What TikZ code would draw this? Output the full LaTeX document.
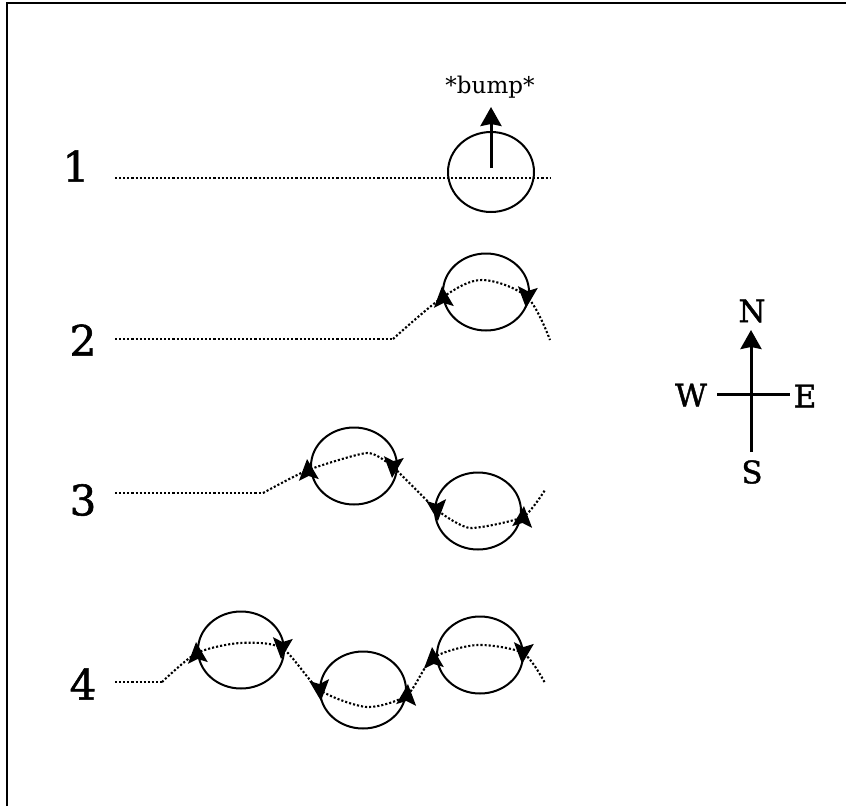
\documentclass[tikz,border=0pt]{standalone}
\usepackage{fontspec}
\newfontfamily\labelfont[FakeBold=1.3]{DejaVu Serif}
\newfontfamily\smallfont{DejaVu Serif}
\usetikzlibrary{shapes.geometric,arrows.meta}
\begin{document}
\begin{tikzpicture}[x=1pt,y=-1pt,
  loop/.style={ellipse, draw, line width=2pt, minimum width=86pt, minimum height=77pt, inner sep=0pt},
  trace/.style={line width=2.1pt, dash pattern=on 2.1pt off 2pt},
  numlabel/.style={font=\labelfont\fontsize{42}{46}\selectfont},
  dirlabel/.style={font=\labelfont\fontsize{31}{34}\selectfont},
  boldarrow/.style={line width=3pt, -{Stealth[length=19pt,width=21pt,inset=2pt]}},
  ahead/.pic={\fill (11,0) -- (-10,10) -- (-6,0) -- (-10,-10) -- cycle;}]
\useasboundingbox (0,0) rectangle (846,806);
% frame (top and left edges visible)
\draw[line width=2pt] (7,806) -- (7,3) -- (846,3);

% row labels
\node[numlabel] (n1) at (76,166) {1};
\node[numlabel] (n2) at (83,340) {2};
\node[numlabel] (n3) at (83,500) {3};
\node[numlabel] (n4) at (83,684) {4};

% ---------- row 1 ----------
\node[loop, minimum height=80pt] (c1) at (491,172) {};
\coordinate (h1s) at (115,178);
\coordinate (h1e) at (550,178);
\draw[trace] (h1s) -- (h1e);
\node[font=\smallfont\fontsize{23}{26}\selectfont] (bump) at (490,87) {*bump*};
\coordinate (b0) at (491,168);
\coordinate (b1) at (491,107);
\draw[boldarrow] (b0) -- (b1);

% ---------- row 2 ----------
\node[loop] (c2) at (486,292) {};
\coordinate (h2s) at (115,339);
\coordinate (h2e) at (393,339);
\coordinate (a2a) at (443,297);
\coordinate (p2) at (482,280);
\coordinate (a2b) at (527,297);
\coordinate (e2) at (550,340);
\draw[trace] (h2s) -- (h2e);
\draw[trace] plot[smooth, tension=0.55] coordinates {(h2e) (a2a) (p2) (a2b) (e2)};
\pic[rotate=95] at (a2a) {ahead};
\pic[rotate=-95] at (a2b) {ahead};

% ---------- row 3 ----------
\node[loop] (c3a) at (354,466) {};
\node[loop] (c3b) at (478,511) {};
\coordinate (h3s) at (115,493);
\coordinate (h3e) at (263,493);
\coordinate (a3a) at (308,470);
\coordinate (p3) at (367,453);
\coordinate (a3b) at (393,467);
\coordinate (a3c) at (437,510);
\coordinate (t3) at (470,528);
\coordinate (a3d) at (523,517);
\coordinate (e3) at (545,490);
\draw[trace] (h3s) -- (h3e);
\draw[trace] plot[smooth, tension=0.35] coordinates {(h3e) (a3a) (p3) (a3b) (a3c) (t3) (a3d) (e3)};
\pic[rotate=95] at (a3a) {ahead};
\pic[rotate=-95] at (a3b) {ahead};
\pic[rotate=-85] at (a3c) {ahead};
\pic[rotate=85] at (a3d) {ahead};

% ---------- row 4 ----------
\node[loop] (c4a) at (241,650) {};
\node[loop] (c4b) at (363,690) {};
\node[loop] (c4c) at (480,655) {};
\coordinate (h4s) at (115,682);
\coordinate (h4e) at (162,682);
\coordinate (a4a) at (197,653);
\coordinate (p4a) at (240,643);
\coordinate (a4b) at (282,648);
\coordinate (a4c) at (320,690);
\coordinate (t4) at (367,707);
\coordinate (a4d) at (407,695);
\coordinate (a4e) at (433,658);
\coordinate (p4c) at (477,645);
\coordinate (a4f) at (523,653);
\coordinate (e4) at (545,683);
\draw[trace] (h4s) -- (h4e);
\draw[trace] plot[smooth, tension=0.45] coordinates {(h4e) (a4a) (p4a) (a4b) (a4c) (t4) (a4d) (a4e) (p4c) (a4f) (e4)};
\pic[rotate=95] at (a4a) {ahead};
\pic[rotate=-95] at (a4b) {ahead};
\pic[rotate=-85] at (a4c) {ahead};
\pic[rotate=85] at (a4d) {ahead};
\pic[rotate=95] at (a4e) {ahead};
\pic[rotate=-95] at (a4f) {ahead};

% ---------- compass ----------
\node[dirlabel] (N) at (752,311) {N};
\node[dirlabel] (S) at (752,472) {S};
\node[dirlabel] (W) at (691,395) {W};
\node[dirlabel] (E) at (805,396) {E};
\coordinate (cN) at (751,330);
\coordinate (cS) at (751,452);
\coordinate (cW) at (717,394);
\coordinate (cE) at (790,394);
\draw[boldarrow] (cS) -- (cN);
\draw[line width=3pt] (cW) -- (cE);
\end{tikzpicture}
\end{document}
